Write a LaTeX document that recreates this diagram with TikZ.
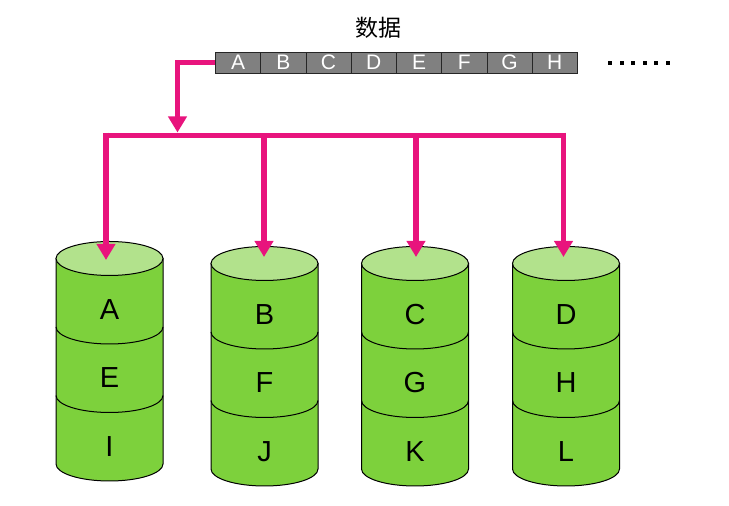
\documentclass[tikz,border=0pt]{standalone}
\usepackage{fontspec}
\setmainfont{Liberation Sans}
\newfontfamily\cjk{Noto Sans CJK SC}
\usetikzlibrary{arrows.meta}
\definecolor{pinkline}{RGB}{232,20,125}
\definecolor{sidegreen}{RGB}{125,209,60}
\definecolor{topgreen}{RGB}{178,226,140}
\definecolor{cellgray}{RGB}{128,128,128}
\tikzset{
  cell/.style={draw=black!85, line width=0.9pt, fill=cellgray, minimum width=45.25pt, minimum height=21pt, inner sep=0pt, text=white, font=\fontsize{21}{21}\selectfont, anchor=west},
  feed/.style={draw=pinkline, line width=5.5pt},
  feedarrow/.style={draw=pinkline, line width=5.5pt, -{Triangle[width=18pt,length=16pt]}},
  disklabel/.style={font=\fontsize{29}{29}\selectfont, inner sep=0pt},
  dotsq/.style={fill=black, minimum size=4pt, inner sep=0pt},
}
\newcommand{\disk}[3]{% cx, ytop, name
  \begin{scope}[shift={(#1,#2)}]
    \draw[line width=1pt, fill=sidegreen] (-53.5,0) -- (-53.5,-205.5) arc[start angle=180,end angle=360,x radius=53.5,y radius=17] -- (53.5,0) -- cycle;
    \draw[line width=1pt] (-53.5,-68.5) arc[start angle=180,end angle=360,x radius=53.5,y radius=17];
    \draw[line width=1pt] (-53.5,-137) arc[start angle=180,end angle=360,x radius=53.5,y radius=17];
    \draw[line width=1pt, fill=topgreen] (0,0) ellipse[x radius=53.5, y radius=17];
    \coordinate (#3) at (0,-1);
  \end{scope}
}
\begin{document}
\begin{tikzpicture}[x=1pt,y=1pt]
\useasboundingbox (0,0) rectangle (729,506);
% title
\node[font=\cjk\fontsize{23}{23}\selectfont, inner sep=0pt] (title) at (378,478) {数据};
% data strip
\foreach \l [count=\i] in {A,B,C,D,E,F,G,H} {
  \node[cell] (c\i) at ({215+(\i-1)*45.25},443.5) {\l};
}
% dots
\foreach \i in {0,...,5} {
  \node[dotsq] (dot\i) at ({610+\i*11.6},443) {};
}
% disks
\disk{109.5}{247.5}{d1}
\disk{264.5}{242.5}{d2}
\disk{415}{242.5}{d3}
\disk{566}{242.5}{d4}
% connectors
\coordinate (turn) at (177.5,443.5);
\coordinate (busin) at (177.5,373.5);
\coordinate (busL) at (106,370.5);
\coordinate (b2) at (264,370.5);
\coordinate (b3) at (416,370.5);
\coordinate (busR) at (563.5,370.5);
\coordinate (t1) at (106,246);
\coordinate (t2) at (264,249);
\coordinate (t3) at (416,249);
\coordinate (t4) at (563.5,249);
\draw[feedarrow] (c1.west) -- (turn) -- (busin);
\draw[feed] ([xshift=-2.75pt]busL) -- ([xshift=2.75pt]busR);
\draw[feedarrow] ([yshift=2.75pt]busL) -- (t1);
\draw[feedarrow] (b2) -- (t2);
\draw[feedarrow] (b3) -- (t3);
\draw[feedarrow] ([yshift=2.75pt]busR) -- (t4);
% labels
\node[disklabel] (l1) at (109.5,196.5) {A};
\node[disklabel] (l2) at (109.5,128) {E};
\node[disklabel] (l3) at (109.5,59.5) {I};
\node[disklabel] (l4) at (264.5,191.5) {B};
\node[disklabel] (l5) at (264.5,123) {F};
\node[disklabel] (l6) at (264.5,54.5) {J};
\node[disklabel] (l7) at (415,191.5) {C};
\node[disklabel] (l8) at (415,123) {G};
\node[disklabel] (l9) at (415,54.5) {K};
\node[disklabel] (l10) at (566,191.5) {D};
\node[disklabel] (l11) at (566,123) {H};
\node[disklabel] (l12) at (566,54.5) {L};
\end{tikzpicture}
\end{document}
